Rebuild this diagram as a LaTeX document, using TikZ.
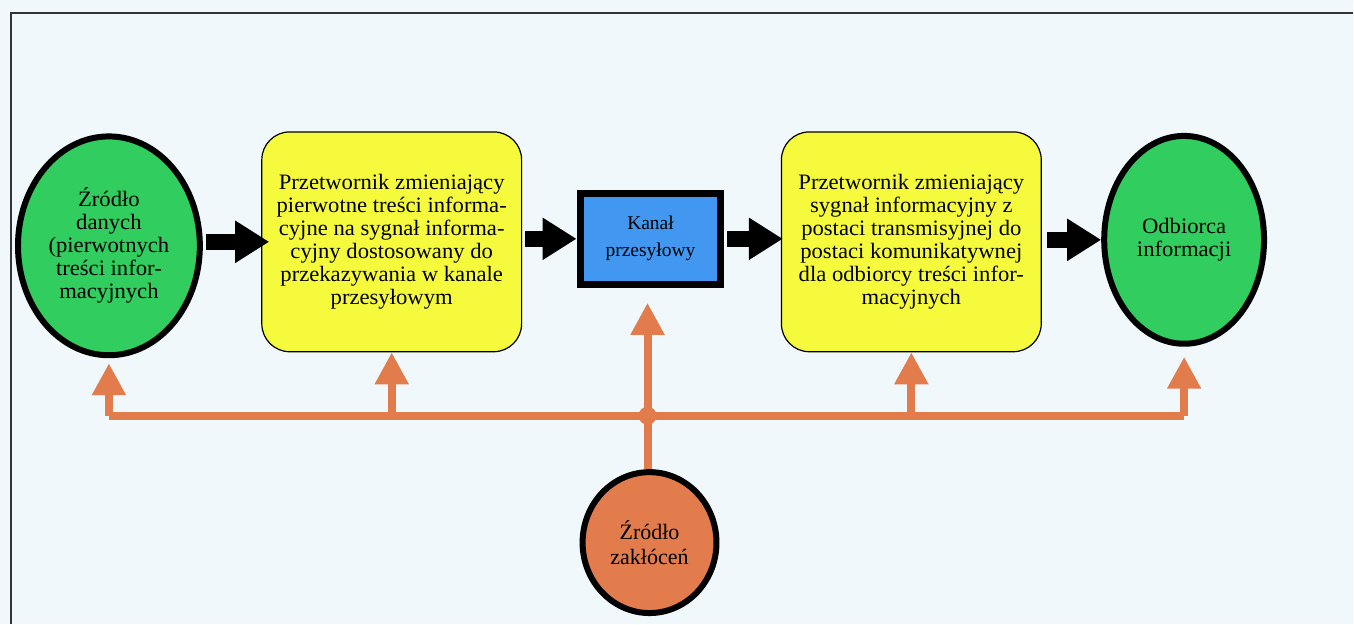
\documentclass[tikz,border=0pt]{standalone}
\usepackage{fontspec}
\setmainfont{Liberation Serif}
\newfontfamily\boxfont[FakeStretch=1.03]{Liberation Serif}
\usetikzlibrary{shapes.geometric,arrows.meta}
\definecolor{bgcol}{RGB}{240,248,252}
\definecolor{srcgreen}{RGB}{50,205,95}
\definecolor{boxyellow}{RGB}{246,250,60}
\definecolor{chanblue}{RGB}{66,152,240}
\definecolor{noiseorange}{RGB}{226,124,76}
\tikzset{
  blob/.style={ellipse, draw=black, line width=6pt, fill=srcgreen, inner sep=0pt,
    align=center, font=\boxfont\fontsize{22}{23}\selectfont},
  conv/.style={draw=black, line width=1.2pt, fill=boxyellow, rounded corners=28pt,
    minimum width=260pt, minimum height=220pt, align=center,
    font=\boxfont\fontsize{22}{23}\selectfont},
  flow/.style={line width=16pt, -{Triangle[length=34pt,width=40pt]}},
  noise/.style={draw=noiseorange, line width=8pt},
  noisearrow/.style={noise, -{Triangle[length=32pt,width=32pt]}, noiseorange},
}
\begin{document}
\begin{tikzpicture}[x=1pt,y=1pt]
  \fill[bgcol] (0,0) rectangle (1354,624);
  \draw[line width=2pt, black!80] (11,0) -- (11,611) -- (1354,611);
  \path
    (109,378) node[blob, minimum width=182pt, minimum height=219pt] (src)
      {Źródło\\danych\\(pierwotnych\\treści infor-\\macyjnych}
    (392,382) node[conv] (conv1)
      {Przetwornik zmieniający\\pierwotne treści informa-\\cyjne na sygnał informa-\\cyjny dostosowany do\\przekazywania w kanale\\przesyłowym}
    (651,385) node[draw=black, line width=7pt, fill=chanblue, minimum width=141pt,
      minimum height=91pt, align=center, font=\fontsize{19.5}{27}\selectfont] (chan)
      {Kanał\\przesyłowy}
    (912,382) node[conv] (conv2)
      {Przetwornik zmieniający\\sygnał informacyjny z\\postaci transmisyjnej do\\postaci komunikatywnej\\dla odbiorcy treści infor-\\macyjnych}
    (1185,384) node[blob, minimum width=160pt, minimum height=208pt] (dst)
      {Odbiorca\\informacji}
    (650,81) node[blob, fill=noiseorange, minimum width=134pt, minimum height=141pt,
      font=\fontsize{22}{25}\selectfont] (noise)
      {Źródło\\zakłóceń};
  \coordinate (bus) at (648,208);
  % main flow
  \begin{scope}[flow]
    \draw ([xshift=3pt]src.east |- conv1.west) to ([xshift=8pt]conv1.west);
    \draw ([xshift=3pt]conv1.east |- chan.west) to (chan.west);
    \draw ([xshift=3pt]chan.east) to ([xshift=2pt]conv2.west |- chan.east);
    \draw ([xshift=5pt]conv2.east |- dst.west) to (dst.west);
  \end{scope}
  % disturbances
  \draw[noise] (noise.north -| bus) to (bus);
  \draw[noise] (src.south |- bus) to (dst.south |- bus);
  \fill[noiseorange] (bus) circle (9pt);
  \begin{scope}[noisearrow]
    \draw (src.south |- bus) to ([yshift=-5pt]src.south);
    \draw (conv1.south |- bus) to (conv1.south);
    \draw (bus) to ([yshift=-15pt]chan.south -| bus);
    \draw (conv2.south |- bus) to (conv2.south);
    \draw (dst.south |- bus) to ([yshift=-10pt]dst.south);
  \end{scope}
\end{tikzpicture}
\end{document}
